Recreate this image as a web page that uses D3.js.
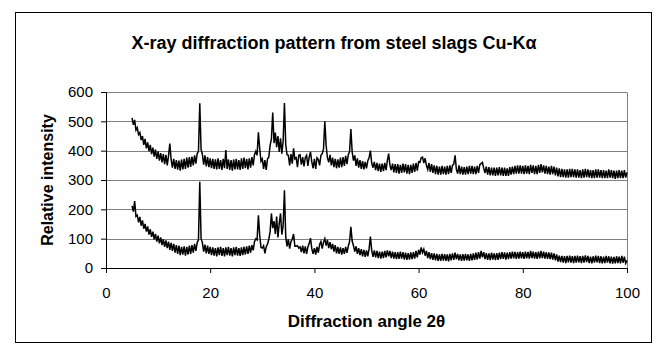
<!DOCTYPE html>
<html>
<head>
<meta charset="utf-8">
<script src="https://cdn.jsdelivr.net/npm/d3@7"></script>
<style>
  body { margin: 0; background: #fff; }
  text { font-family: Arial, "Liberation Sans", sans-serif; }
</style>
</head>
<body>
<div id="chart"></div>
<script>
// angles run from 5 to 100 degrees in 0.25 degree steps
const angleStart = 5;
const angleStep = 0.25;

// upper trace (one row per 5 degrees)
const slagA = [
  512,488,505,470,478,455,462,436,450,420,440,408,428,398,420,388,410,380,404,372,
  398,366,392,360,388,354,386,350,382,424,370,342,372,338,368,335,366,332,370,336,
  372,338,376,342,378,345,380,350,384,356,390,398,562,404,388,352,384,346,378,344,
  374,340,372,338,370,336,374,338,368,334,372,340,402,338,370,334,368,332,370,336,
  372,336,368,334,374,338,376,340,372,336,374,342,378,350,386,398,384,463,408,364,
  372,338,368,334,372,378,418,440,530,426,462,412,450,396,442,390,432,562,420,386,
  384,350,388,356,408,372,376,344,384,386,352,378,346,376,384,348,378,396,362,340,
  372,338,376,370,350,384,390,406,500,418,376,360,386,350,376,344,372,340,370,342,
  376,344,378,348,382,354,386,396,474,396,366,384,348,374,342,368,338,364,336,362,
  340,366,376,400,358,342,362,334,358,330,356,328,356,330,358,334,366,390,350,334,
  356,326,354,324,354,322,352,324,356,326,354,322,352,320,352,324,356,328,358,332,
  362,360,376,378,358,374,350,336,358,328,354,324,350,320,348,318,346,318,348,320,
  346,318,348,320,350,324,350,354,384,336,322,350,320,346,318,344,318,346,320,348,
  322,348,320,346,320,348,324,352,356,360,340,324,346,318,344,316,342,316,342,314,
  342,316,344,316,342,314,342,314,340,314,344,318,346,320,348,322,350,322,350,322,
  348,320,350,322,348,320,352,324,350,320,348,320,352,324,354,326,350,322,348,320,
  346,318,348,320,346,316,342,312,340,310,338,310,336,308,336,308,338,310,338,310,
  336,308,336,308,334,306,336,308,338,310,336,308,334,306,334,306,336,308,336,308,
  334,306,334,306,332,306,336,308,334,306,332,304,332,306,334,306,332,306,334,308,326
];

// lower trace
const slagB = [
  212,192,228,176,180,156,174,144,162,134,150,124,142,114,132,106,124,98,116,90,
  110,84,104,78,98,72,94,68,90,62,86,58,82,52,78,48,76,44,72,46,
  74,42,72,46,76,48,78,52,82,58,86,96,294,100,86,56,80,50,76,48,
  72,44,70,42,68,40,70,44,72,41,68,40,70,44,72,42,68,40,70,44,
  72,42,68,41,70,44,72,46,74,48,76,52,78,60,90,100,96,180,112,70,
  68,76,50,72,82,98,124,186,136,160,116,175,104,152,186,114,144,265,106,74,
  98,66,90,98,116,74,74,76,68,72,54,76,50,74,48,72,84,102,66,48,
  68,46,72,52,80,90,66,88,100,76,96,68,88,64,82,56,78,50,72,48,
  70,46,68,48,72,52,74,90,140,92,76,56,74,48,68,44,64,40,62,38,
  60,40,66,107,60,38,60,36,58,34,56,32,56,34,58,36,60,40,58,34,
  56,32,54,30,54,31,56,32,54,29,52,28,51,29,53,30,54,32,58,36,
  62,46,70,52,64,42,58,34,54,30,51,28,50,26,48,24,46,24,48,25,
  47,24,46,23,48,26,50,28,52,30,48,26,46,24,47,25,48,26,46,24,
  48,26,50,28,52,29,54,32,58,36,54,30,51,28,50,27,52,29,50,27,
  51,28,52,30,54,31,53,29,52,30,54,32,56,33,55,31,54,32,56,33,
  54,31,56,33,55,32,58,34,56,32,54,31,56,33,58,34,56,32,54,31,
  53,30,52,29,50,26,46,22,42,20,41,18,40,17,41,19,42,18,40,17,
  41,18,42,19,40,17,41,18,43,20,41,17,39,16,40,18,42,19,41,17,
  40,16,39,17,41,18,40,16,39,15,38,16,40,17,39,16,41,18,39,16,26
];

const xTicks = [0, 20, 40, 60, 80, 100];
const yTicks = [0, 100, 200, 300, 400, 500, 600];

const titleText = 'X-ray diffraction pattern from steel slags Cu-K\u03b1';
const xTitle = 'Diffraction angle 2\u03b8';
const yTitle = 'Relative intensity';

const W = 657, H = 348;
const margin = {top: 92, right: 30, bottom: 80, left: 106},
      width = 627 - margin.left,
      height = 268 - margin.top;

const root = d3.select('#chart')
    .append('svg')
    .attr('width', W)
    .attr('height', H);

// chart frame
root.append('rect')
    .attr('x', 15.5).attr('y', 12.5)
    .attr('width', 636).attr('height', 330)
    .attr('fill', 'none')
    .attr('stroke', '#000')
    .attr('stroke-width', 1);

root.append('text')
    .attr('x', 334).attr('y', 49)
    .attr('text-anchor', 'middle')
    .style('font-size', '18px')
    .style('font-weight', 'bold')
    .text(titleText);

const svg = root.append('g')
    .attr('transform', 'translate(' + margin.left + ',' + margin.top + ')');

const x = d3.scaleLinear().domain([0, 100]).range([0, width]);
const y = d3.scaleLinear().domain([0, 600]).range([height, 0]);

// gridlines + plot area border
svg.append('g')
    .selectAll('line')
    .data(yTicks.filter(d => d > 0))
    .enter()
    .append('line')
    .attr('x1', 0).attr('x2', width)
    .attr('y1', d => Math.round(y(d)) + 0.5)
    .attr('y2', d => Math.round(y(d)) + 0.5)
    .attr('stroke', '#808080');

svg.append('line')
    .attr('x1', width + 0.5).attr('x2', width + 0.5)
    .attr('y1', Math.round(y(600)) + 0.5).attr('y2', height)
    .attr('stroke', '#808080');

const xAxis = svg.append('g')
    .attr('transform', 'translate(0,' + height + ')')
    .call(d3.axisBottom(x).tickValues(xTicks).tickSize(5).tickPadding(14));

const yAxis = svg.append('g')
    .call(d3.axisLeft(y).tickValues(yTicks).tickSize(5).tickPadding(8));

[xAxis, yAxis].forEach(a => {
  a.select('.domain').attr('stroke', '#000');
  a.selectAll('line').attr('stroke', '#000');
  a.selectAll('text')
      .style('font-size', '15px')
      .style('font-family', 'Arial, "Liberation Sans", sans-serif')
      .attr('fill', '#000');
});

const line = d3.line()
    .x((d, i) => x(angleStart + i * angleStep))
    .y(d => y(d));

svg.selectAll('.trace')
    .data([slagA, slagB])
    .enter()
    .append('path')
    .attr('class', 'trace')
    .attr('d', d => line(d))
    .attr('fill', 'none')
    .attr('stroke', '#000')
    .attr('stroke-width', 1.5);

root.append('text')
    .attr('x', margin.left + width / 2).attr('y', 327)
    .attr('text-anchor', 'middle')
    .style('font-size', '17px')
    .style('font-weight', 'bold')
    .text(xTitle);

root.append('text')
    .attr('transform', 'translate(53,' + (margin.top + height / 2) + ') rotate(-90)')
    .attr('text-anchor', 'middle')
    .style('font-size', '16px')
    .style('font-weight', 'bold')
    .text(yTitle);
</script>
</body>
</html>
